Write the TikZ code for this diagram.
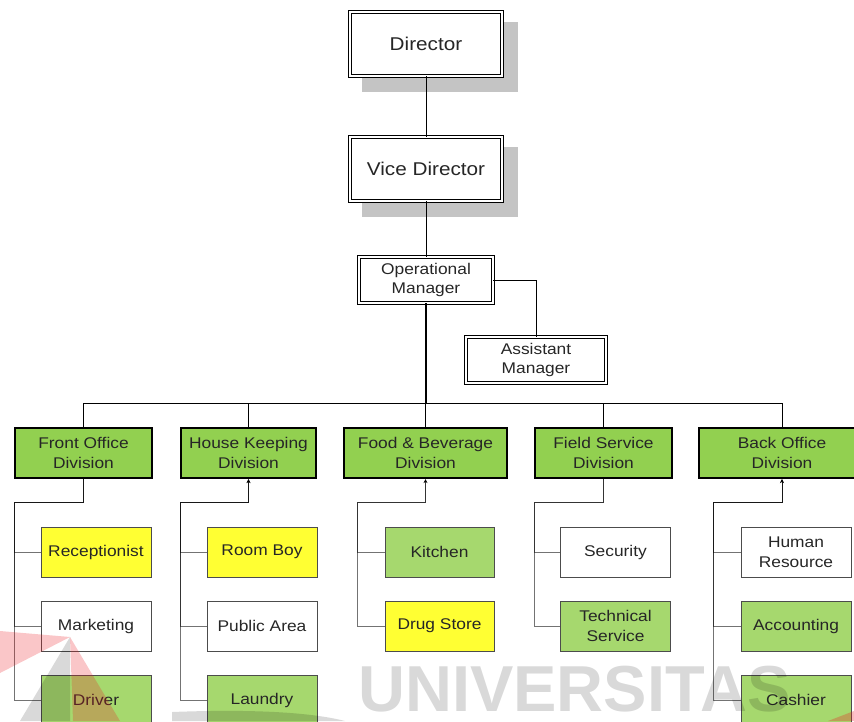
\documentclass[tikz,border=0pt]{standalone}
\usepackage{fontspec}
\setmainfont{Liberation Sans}[FakeStretch=1.12]
\newfontfamily\wmfont{Liberation Sans}
\usetikzlibrary{arrows.meta}
\definecolor{divgreen}{HTML}{92D050}
\definecolor{subgreen}{HTML}{A6D86E}
\definecolor{subyellow}{HTML}{FFFF33}
\definecolor{shadowgray}{HTML}{C4C4C4}
\definecolor{txt}{HTML}{262626}
\definecolor{logored}{HTML}{ED1C24}
\tikzset{
  base/.style={rectangle, align=center, inner sep=0pt, text=txt,
    font=\fontsize{15.5}{19.5}\selectfont},
  topbox/.style={base, draw=black, double=white, line width=0.7pt,
    double distance=2.2pt, fill=white, font=\fontsize{18.5}{22}\selectfont},
  mgrbox/.style={base, draw=black, double=white, line width=0.7pt,
    double distance=2pt, fill=white},
  divbox/.style={base, draw=black, line width=2.2pt, fill=divgreen,
    minimum height=50pt},
  subbox/.style={base, draw=black!70, line width=0.8pt,
    minimum width=110pt, minimum height=50pt},
  subw/.style={subbox, fill=white},
  subg/.style={subbox, fill=subgreen},
  suby/.style={subbox, fill=subyellow},
  busline/.style={draw=black, line width=0.8pt},
  trunk/.style={draw=black, line width=2pt},
  branch/.style={draw=black, draw opacity=0.55, line width=1pt},
  tip/.style={-{Stealth[length=4pt,width=4pt]}},
  shadow/.style={fill=shadowgray, draw=none},
}
\begin{document}
\begin{tikzpicture}[x=1pt,y=-1pt]
\useasboundingbox (0,0) rectangle (854,721);
\clip (0,0) rectangle (854,721);

% drop shadows of the two top boxes
\fill[shadow] (362,22) rectangle (518,92);
\fill[shadow] (362,147) rectangle (518,217);

% management
\node[topbox, minimum width=152pt, minimum height=64pt] (dir) at (426,44) {Director};
\node[topbox, minimum width=152pt, minimum height=64pt] (vdir) at (426,169) {Vice Director};
\node[mgrbox, minimum width=134pt, minimum height=46pt] (op) at (426,280) {Operational\\Manager};
\node[mgrbox, minimum width=140pt, minimum height=46pt] (am) at (536,360) {Assistant\\Manager};

% divisions
\node[divbox, minimum width=137pt] (fo) at (83.5,453) {Front Office\\Division};
\node[divbox, minimum width=135pt] (hk) at (248.5,453) {House Keeping\\Division};
\node[divbox, minimum width=163pt] (fb) at (425.5,453) {Food \& Beverage\\Division};
\node[divbox, minimum width=137pt] (fs) at (603.5,453) {Field Service\\Division};
\node[divbox, minimum width=166pt] (bo) at (782,453) {Back Office\\Division};

% units
\node[suby] (rec) at (96,552) {Receptionist};
\node[subw] (mkt) at (96,626) {Marketing};
\node[subg] (drv) at (96,700) {Driver};

\node[suby] (rb) at (262,552) {Room Boy};
\node[subw] (pa) at (262,626) {Public Area};
\node[subg] (lau) at (262,700) {Laundry};

\node[subg, minimum width=109pt] (kit) at (439.5,552) {Kitchen};
\node[suby, minimum width=109pt] (ds) at (439.5,626) {Drug Store};

\node[subw] (sec) at (615.5,552) {Security};
\node[subg] (ts) at (615.5,626) {Technical\\Service};

\node[subw] (hr) at (796,552) {Human\\Resource};
\node[subg] (acc) at (796,626) {Accounting};
\node[subg] (cas) at (796,700) {Cashier};

% upper chain
\draw[busline] (dir) -- (vdir);
\draw[busline] (vdir) -- (op);
\draw[busline] (op.east) -| (am.north);

\coordinate (bus) at (426,403);
\draw[trunk] (op.south) -- (bus);
\foreach \d in {fo,hk,fb,fs,bo}
  \draw[busline] (\d.north) |- (bus);

% elbows under each division
\coordinate (foe) at (14,502);
\coordinate (hke) at (180,502);
\coordinate (fbe) at (357,502);
\coordinate (fse) at (534,502);
\coordinate (boe) at (713,502);

\foreach \c in {rec,mkt,drv}
  \draw[branch] (\c.west) -| (foe) -| (fo.south);
\foreach \c in {rb,pa,lau}
  \draw[branch,tip] (\c.west) -| (hke) -| (hk.south);
\foreach \c in {kit,ds}
  \draw[branch,tip] (\c.west) -| (fbe) -| (fb.south);
\foreach \c in {sec,ts}
  \draw[branch] (\c.west) -| (fse) -| (fs.south);
\foreach \c in {hr,acc,cas}
  \draw[branch,tip] (\c.west) -| (boe) -| (bo.south);

% repository watermark
\fill[logored, fill opacity=0.25] (70,637) -- (0,631) -- (0,673) -- cycle;
\fill[logored, fill opacity=0.25] (70,637) -- (73,721) -- (120,721) -- cycle;
\fill[black, fill opacity=0.15] (70,637) -- (20,721) -- (70,721) -- cycle;
\fill[black, fill opacity=0.15] (172,721) -- (172,712)
  .. controls (250,709) and (310,712) .. (345,721) -- cycle;
\fill[logored, fill opacity=0.3] (828,721) -- (854,711) -- (854,721) -- cycle;
\node[anchor=base west, inner sep=0pt, text=black, text opacity=0.15,
  font=\wmfont\bfseries\fontsize{65}{65}\selectfont] (wm) at (358,711) {UNIVERSITAS};
\end{tikzpicture}
\end{document}
